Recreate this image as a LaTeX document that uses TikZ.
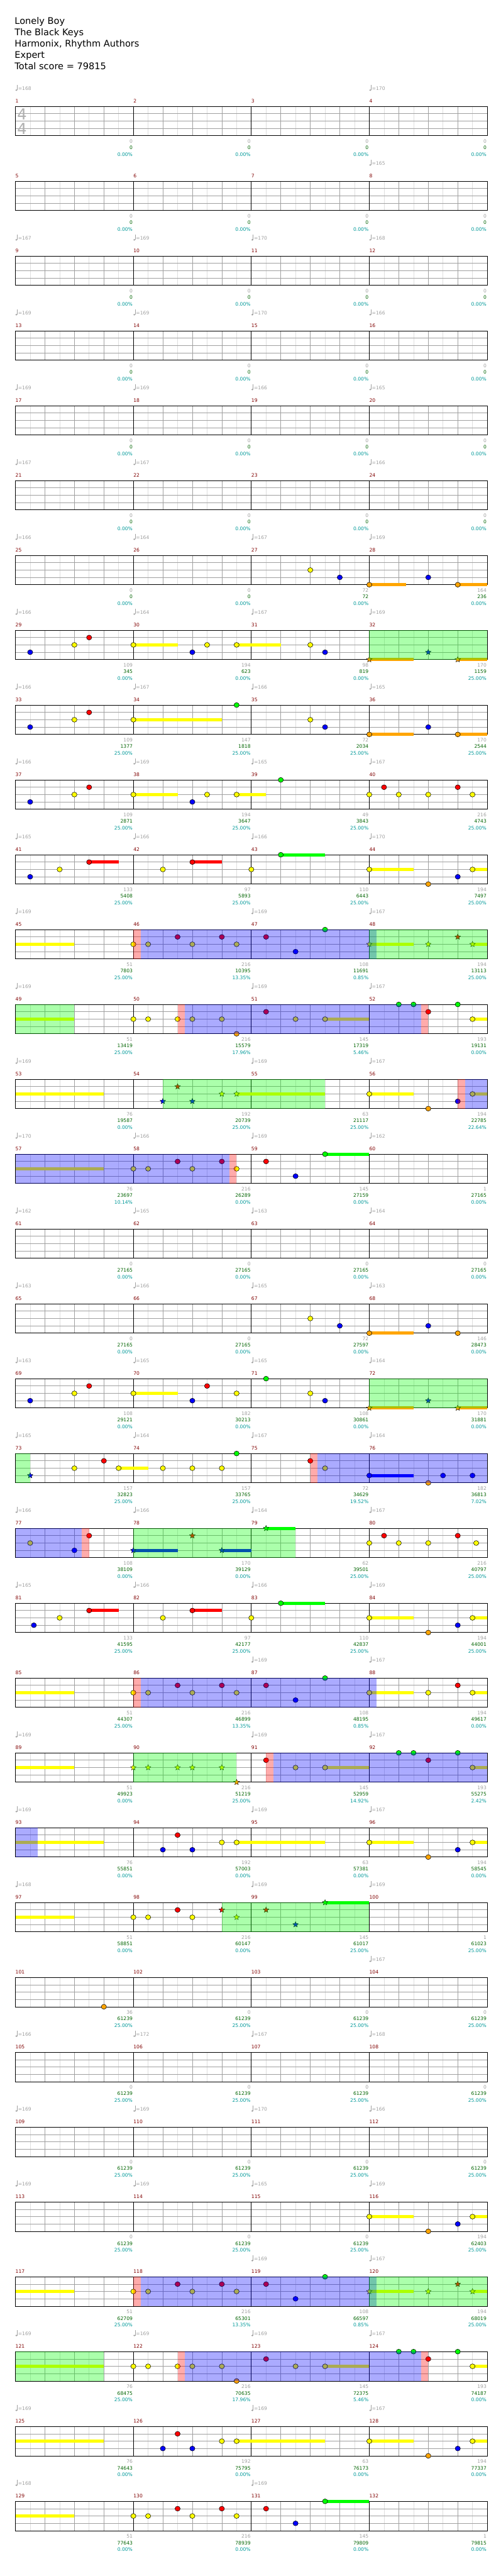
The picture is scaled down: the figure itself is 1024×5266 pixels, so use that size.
\documentclass[tikz,border=0pt]{standalone}
\usepackage{fontspec}
\setmainfont{DejaVu Sans}
\usetikzlibrary{shapes.geometric}
\definecolor{mred}{RGB}{128,0,0}
\definecolor{lgray}{RGB}{160,160,160}
\definecolor{vlgray}{RGB}{222,222,222}
\definecolor{tsgray}{RGB}{175,175,175}
\definecolor{tgreen}{RGB}{0,100,0}
\definecolor{pteal}{RGB}{0,153,153}
\definecolor{lane0}{RGB}{0,255,0}
\definecolor{lane1}{RGB}{255,0,0}
\definecolor{lane2}{RGB}{255,255,0}
\definecolor{lane3}{RGB}{0,0,255}
\definecolor{lane4}{RGB}{255,165,0}
\newcommand\sm{\fontsize{9.8}{11}\selectfont}
\tikzset{
  row/.style={xshift=31.5pt,yshift={-217.3pt-153pt*#1},x=60.3125pt,y=-15pt},
  sub/.style={vlgray,line width=.8pt},
  beat/.style={lgray,line width=1pt},
  bar/.style={black,line width=1pt},
  head/.style={anchor=base west,inner sep=0,font=\fontsize{18.7}{22}\selectfont},
  mnum/.style={text=mred,anchor=base west,inner sep=0,yshift=7.3pt,font=\sm},
  sc/.style={anchor=base east,inner sep=0,xshift=-1.3pt,font=\sm},
  ts/.style={text=tsgray,inner sep=0,font=\fontsize{31}{31}\selectfont},
  sp/.style={star,star points=5,star point ratio=2.2,minimum size=12pt,inner sep=0,draw=black,line width=.5pt},
}
% tempo mark, score lines, note, star note, sustain, overlay
\newcommand\tempo[2]{%
  \fill[lgray] (#1,0) ++(2pt,33pt) ellipse (2pt and 1.6pt);
  \draw[lgray,line width=.8pt] (#1,0) ++(3.6pt,33pt) -- ++(0,11pt);
  \path (#1,0) node[text=lgray,anchor=base west,inner sep=0,xshift=5.3pt,yshift=33.3pt,font=\sm]{=#2};}
\newcommand\meas[4]{\path (4*#1+4,4) node[sc,text=lgray,yshift=-15.4pt]{#2}
  node[sc,text=tgreen,yshift=-28.4pt]{#3} node[sc,text=pteal,yshift=-41.7pt]{#4};}
\newcommand\nt[2]{\filldraw[fill=lane#2,draw=black,line width=.7pt] (#1,#2) ellipse (5.3pt and 5pt);}
\newcommand\stn[2]{\node[sp,fill=lane#2] at (#1,#2) {};}
\newcommand\sus[3]{\fill[lane#3] ([yshift=3.3pt]#1,#3) rectangle ([yshift=-3.3pt]#2,#3);}
\newcommand\zone[3]{\fill[#3,opacity=.33] (#1,0) rectangle (#2,4);}
\begin{document}
\begin{tikzpicture}[x=1pt,y=-1pt]
\useasboundingbox (0,0) rectangle (1024,5266);
\fill[white] (0,0) rectangle (1024,5266);
\path (30,49.3) node[head]{Lonely Boy} (30,72.7) node[head]{The Black Keys}
  (30,96) node[head]{Harmonix, Rhythm Authors} (30,119.3) node[head]{Expert}
  (30,141.7) node[head]{Total score = 79815};
% staves
\foreach \i in {0,...,32}{
  \begin{scope}[row=\i]
    \foreach \k in {0.5,1.5,...,15.5} \draw[sub] (\k,0) -- (\k,4);
    \foreach \k in {1,...,15} \draw[beat] (\k,0) -- (\k,4);
    \foreach \l in {1,2,3} \draw[beat] (0,\l) -- (16,\l);
    \foreach \k in {4,8,12} \draw[bar] (\k,0) -- (\k,4);
    \draw[bar] (0,0) rectangle (16,4);
    \foreach \k in {0,...,3}{
      \pgfmathtruncatemacro\mn{4*\i+\k+1}
      \path (4*\k,0) node[mnum]{\mn};}
  \end{scope}}
\foreach \i in {0,...,5}{
  \begin{scope}[row=\i]
    \foreach \k in {0,...,3}{\meas\k{0}{0}{0.00\%}}
  \end{scope}}
\begin{scope}[row=0]
\path (0,0) ++(13.5pt,-16pt) node[ts]{4} (0,0) ++(13.5pt,-46pt) node[ts]{4};
\tempo{0}{168}\tempo{12}{170}
\end{scope}
\begin{scope}[row=1]\tempo{12}{165}\end{scope}
\begin{scope}[row=2]\tempo{0}{167}\tempo{4}{169}\tempo{8}{170}\tempo{12}{168}\end{scope}
\begin{scope}[row=3]\tempo{0}{169}\tempo{4}{169}\tempo{8}{170}\tempo{12}{166}\end{scope}
\begin{scope}[row=4]\tempo{0}{169}\tempo{4}{169}\tempo{8}{166}\tempo{12}{165}\end{scope}
\begin{scope}[row=5]\tempo{0}{167}\tempo{4}{167}\tempo{12}{166}\end{scope}
% 25-28
\begin{scope}[row=6]
\tempo{0}{166}\tempo{4}{164}\tempo{8}{167}\tempo{12}{169}
\meas0{0}{0}{0.00\%}\meas1{0}{0}{0.00\%}\meas2{72}{72}{0.00\%}\meas3{164}{236}{0.00\%}
\sus{12}{13.25}4\sus{15}{16}4
\nt{10}2\nt{11}3\nt{12}4\nt{14}3\nt{15}4
\end{scope}
% 29-32
\begin{scope}[row=7]
\tempo{0}{166}\tempo{4}{164}\tempo{8}{167}\tempo{12}{169}
\meas0{109}{345}{0.00\%}\meas1{194}{623}{0.00\%}\meas2{98}{819}{0.00\%}\meas3{170}{1159}{25.00\%}
\sus{4}{5.5}2\sus{7.5}{9}2\sus{12}{13.5}4\sus{15}{16}4
\nt{0.5}3\nt22\nt{2.5}1\nt42\nt63\nt{6.5}2\nt{7.5}2\nt{10}2\nt{10.5}3
\stn{12}4\stn{14}3\stn{15}4
\zone{12}{16}{lane0}
\end{scope}
% 33-36
\begin{scope}[row=8]
\tempo{0}{166}\tempo{4}{167}\tempo{8}{166}\tempo{12}{165}
\meas0{109}{1377}{25.00\%}\meas1{147}{1818}{25.00\%}\meas2{72}{2034}{25.00\%}\meas3{170}{2544}{25.00\%}
\sus{4}{7}2\sus{12}{13.5}4\sus{15}{16}4
\nt{0.5}3\nt22\nt{2.5}1\nt42\nt{7.5}0\nt{10}2\nt{10.5}3\nt{12}4\nt{14}3\nt{15}4
\end{scope}
% 37-40
\begin{scope}[row=9]
\tempo{0}{166}\tempo{4}{169}\tempo{8}{165}\tempo{12}{167}
\meas0{109}{2871}{25.00\%}\meas1{194}{3647}{25.00\%}\meas2{49}{3843}{25.00\%}\meas3{216}{4743}{25.00\%}
\sus{4}{5.5}2\sus{7.5}{8.5}2
\nt{0.5}3\nt22\nt{2.5}1\nt42\nt63\nt{6.5}2\nt{7.5}2\nt90\nt{12}2\nt{12.5}1\nt{13}2\nt{14}2\nt{15}1\nt{15.5}2
\end{scope}
% 41-44
\begin{scope}[row=10]
\tempo{0}{165}\tempo{4}{166}\tempo{8}{166}\tempo{12}{170}
\meas0{133}{5408}{25.00\%}\meas1{97}{5893}{25.00\%}\meas2{110}{6443}{25.00\%}\meas3{194}{7497}{25.00\%}
\sus{2.5}{3.5}1\sus{6}{7}1\sus{9}{10.5}0\sus{12}{13.5}2\sus{15.5}{16}2
\nt{0.5}3\nt{1.5}2\nt{2.5}1\nt52\nt61\nt82\nt90\nt{12}2\nt{14}4\nt{15}3\nt{15.5}2
\end{scope}
% 45-48
\begin{scope}[row=11]
\tempo{0}{169}\tempo{8}{169}\tempo{12}{167}
\meas0{51}{7803}{25.00\%}\meas1{216}{10395}{13.35\%}\meas2{108}{11691}{0.85\%}\meas3{194}{13113}{25.00\%}
\sus{0}{2}2\sus{12}{13.5}2\sus{15.5}{16}2
\nt42\nt{4.5}2\nt{5.5}1\nt62\nt71\nt{7.5}2\nt{8.5}1\nt{9.5}3\nt{10.5}0
\stn{12}2\stn{14}2\stn{15}1\stn{15.5}2
\zone{4}{4.25}{lane1}\zone{4.25}{12.25}{lane3}\zone{12}{16}{lane0}
\end{scope}
% 49-52
\begin{scope}[row=12]
\tempo{0}{169}\tempo{8}{169}\tempo{12}{167}
\meas0{51}{13419}{25.00\%}\meas1{216}{15579}{17.96\%}\meas2{145}{17319}{5.46\%}\meas3{193}{19131}{0.00\%}
\sus{0}{2}2\sus{10.5}{12}2\sus{15.5}{16}2
\nt42\nt{4.5}2\nt{5.5}2\nt62\nt72\nt{7.5}4\nt{8.5}1\nt{9.5}2\nt{10.5}2\nt{13}0\nt{13.5}0\nt{14}1\nt{15}0\nt{15.5}2
\zone{0}{2}{lane0}\zone{5.5}{5.75}{lane1}\zone{5.75}{13.75}{lane3}\zone{13.75}{14}{lane1}
\end{scope}
% 53-56
\begin{scope}[row=13]
\tempo{0}{169}\tempo{8}{169}\tempo{12}{167}
\meas0{76}{19587}{0.00\%}\meas1{192}{20739}{25.00\%}\meas2{63}{21117}{25.00\%}\meas3{194}{22785}{22.64\%}
\sus{0}{3}2\sus{7.5}{10.5}2\sus{12}{13.5}2\sus{15.5}{16}2
\stn53\stn{5.5}1\stn63\stn72\stn{7.5}2
\nt{12}2\nt{14}4\nt{15}3\nt{15.5}2
\zone{5}{10.5}{lane0}\zone{15}{15.25}{lane1}\zone{15.25}{16}{lane3}
\end{scope}
% 57-60
\begin{scope}[row=14]
\tempo{0}{170}\tempo{4}{166}\tempo{8}{169}\tempo{12}{162}
\meas0{76}{23697}{10.14\%}\meas1{216}{26289}{0.00\%}\meas2{145}{27159}{0.00\%}\meas3{1}{27165}{0.00\%}
\sus{0}{3}2\sus{10.5}{12}0
\nt42\nt{4.5}2\nt{5.5}1\nt62\nt71\nt{7.5}2\nt{8.5}1\nt{9.5}3\nt{10.5}0
\zone{0}{7.25}{lane3}\zone{7.25}{7.5}{lane1}
\end{scope}
% 61-64
\begin{scope}[row=15]
\tempo{0}{162}\tempo{4}{165}\tempo{8}{163}\tempo{12}{164}
\foreach \k in {0,...,3}{\meas\k{0}{27165}{0.00\%}}
\end{scope}
% 65-68
\begin{scope}[row=16]
\tempo{0}{163}\tempo{4}{166}\tempo{8}{165}\tempo{12}{163}
\meas0{0}{27165}{0.00\%}\meas1{0}{27165}{0.00\%}\meas2{72}{27597}{0.00\%}\meas3{146}{28473}{0.00\%}
\sus{12}{13.5}4
\nt{10}2\nt{11}3\nt{12}4\nt{14}3\nt{15}4
\end{scope}
% 69-72
\begin{scope}[row=17]
\tempo{0}{163}\tempo{4}{165}\tempo{8}{165}\tempo{12}{164}
\meas0{108}{29121}{0.00\%}\meas1{182}{30213}{0.00\%}\meas2{108}{30861}{0.00\%}\meas3{170}{31881}{0.00\%}
\sus{4}{5.5}2\sus{12}{13.5}4\sus{15}{16}4
\nt{0.5}3\nt22\nt{2.5}1\nt42\nt63\nt{6.5}1\nt{7.5}2\nt{8.5}0\nt{10}2\nt{10.5}3
\stn{12}4\stn{14}3\stn{15}4
\zone{12}{16}{lane0}
\end{scope}
% 73-76
\begin{scope}[row=18]
\tempo{0}{165}\tempo{4}{164}\tempo{8}{167}\tempo{12}{164}
\meas0{157}{32823}{25.00\%}\meas1{157}{33765}{25.00\%}\meas2{72}{34629}{19.52\%}\meas3{182}{36813}{7.02\%}
\sus{3.5}{4.5}2\sus{12}{13.5}3
\stn{0.5}3
\nt22\nt31\nt{3.5}2\nt52\nt62\nt72\nt{7.5}0\nt{10}1\nt{10.5}2\nt{12}3\nt{14}4\nt{14.5}3\nt{15.5}3
\zone{0}{0.5}{lane0}\zone{10}{10.25}{lane1}\zone{10.25}{16}{lane3}
\end{scope}
% 77-80
\begin{scope}[row=19]
\tempo{0}{166}\tempo{4}{166}\tempo{8}{164}\tempo{12}{167}
\meas0{108}{38109}{0.00\%}\meas1{170}{39129}{0.00\%}\meas2{62}{39501}{25.00\%}\meas3{216}{40797}{25.00\%}
\sus{4}{5.5}3\sus{7}{8}3\sus{8.5}{9.5}0
\nt{0.5}2\nt23\nt{2.5}1
\stn43\stn61\stn73\stn{8.5}0
\nt{12}2\nt{12.5}1\nt{13}2\nt{14}2\nt{15}1\nt{15.625}2
\zone{0}{2.25}{lane3}\zone{2.25}{2.5}{lane1}\zone{4}{9.5}{lane0}
\end{scope}
% 81-84
\begin{scope}[row=20]
\tempo{0}{165}\tempo{4}{166}\tempo{8}{166}\tempo{12}{169}
\meas0{133}{41595}{25.00\%}\meas1{97}{42177}{25.00\%}\meas2{110}{42837}{25.00\%}\meas3{194}{44001}{25.00\%}
\sus{2.5}{3.5}1\sus{6}{7}1\sus{9}{10.5}0\sus{12}{13.5}2\sus{15.5}{16}2
\nt{0.625}3\nt{1.5}2\nt{2.5}1\nt52\nt61\nt82\nt90\nt{12}2\nt{14}4\nt{15}3\nt{15.5}2
\end{scope}
% 85-88
\begin{scope}[row=21]
\tempo{8}{169}\tempo{12}{167}
\meas0{51}{44307}{25.00\%}\meas1{216}{46899}{13.35\%}\meas2{108}{48195}{0.85\%}\meas3{194}{49617}{0.00\%}
\sus{0}{2}2\sus{12}{13.5}2\sus{15.5}{16}2
\nt42\nt{4.5}2\nt{5.5}1\nt62\nt71\nt{7.5}2\nt{8.5}1\nt{9.5}3\nt{10.5}0\nt{12}2\nt{14}2\nt{15}1\nt{15.5}2
\zone{4}{4.25}{lane1}\zone{4.25}{12.25}{lane3}
\end{scope}
% 89-92
\begin{scope}[row=22]
\tempo{0}{169}\tempo{8}{169}\tempo{12}{167}
\meas0{51}{49923}{0.00\%}\meas1{216}{51219}{25.00\%}\meas2{145}{52959}{14.92\%}\meas3{193}{55275}{2.42\%}
\sus{0}{2}2\sus{10.5}{12}2\sus{15.5}{16}2
\stn42\stn{4.5}2\stn{5.5}2\stn62\stn72\stn{7.5}4
\nt{8.5}1\nt{9.5}2\nt{10.5}2\nt{13}0\nt{13.5}0\nt{14}1\nt{15}0\nt{15.5}2
\zone{4}{7.5}{lane0}\zone{8.5}{8.75}{lane1}\zone{8.75}{16}{lane3}
\end{scope}
% 93-96
\begin{scope}[row=23]
\tempo{0}{169}\tempo{8}{169}\tempo{12}{167}
\meas0{76}{55851}{0.00\%}\meas1{192}{57003}{0.00\%}\meas2{63}{57381}{0.00\%}\meas3{194}{58545}{0.00\%}
\sus{0}{3}2\sus{7.5}{10.5}2\sus{12}{13.5}2\sus{15.5}{16}2
\nt53\nt{5.5}1\nt63\nt72\nt{7.5}2\nt{12}2\nt{14}4\nt{15}3\nt{15.5}2
\zone{0}{0.75}{lane3}
\end{scope}
% 97-100
\begin{scope}[row=24]
\tempo{0}{168}\tempo{8}{169}\tempo{12}{169}
\meas0{51}{58851}{0.00\%}\meas1{216}{60147}{0.00\%}\meas2{145}{61017}{25.00\%}\meas3{1}{61023}{25.00\%}
\sus{0}{2}2\sus{10.5}{12}0
\nt42\nt{4.5}2\nt{5.5}1\nt62
\stn71\stn{7.5}2\stn{8.5}1\stn{9.5}3\stn{10.5}0
\zone{7}{12}{lane0}
\end{scope}
% 101-104
\begin{scope}[row=25]
\tempo{12}{167}
\meas0{36}{61239}{25.00\%}\meas1{0}{61239}{25.00\%}\meas2{0}{61239}{25.00\%}\meas3{0}{61239}{25.00\%}
\nt34
\end{scope}
% 105-112
\begin{scope}[row=26]
\tempo{0}{166}\tempo{4}{172}\tempo{8}{167}\tempo{12}{168}
\foreach \k in {0,...,3}{\meas\k{0}{61239}{25.00\%}}
\end{scope}
\begin{scope}[row=27]
\tempo{0}{169}\tempo{4}{169}\tempo{8}{170}\tempo{12}{166}
\foreach \k in {0,...,3}{\meas\k{0}{61239}{25.00\%}}
\end{scope}
% 113-116
\begin{scope}[row=28]
\tempo{0}{169}\tempo{4}{169}\tempo{8}{165}\tempo{12}{169}
\meas0{0}{61239}{25.00\%}\meas1{0}{61239}{25.00\%}\meas2{0}{61239}{25.00\%}\meas3{194}{62403}{25.00\%}
\sus{12}{13.5}2\sus{15.5}{16}2
\nt{12}2\nt{14}4\nt{15}3\nt{15.5}2
\end{scope}
% 117-120
\begin{scope}[row=29]
\tempo{8}{169}\tempo{12}{167}
\meas0{51}{62709}{25.00\%}\meas1{216}{65301}{13.35\%}\meas2{108}{66597}{0.85\%}\meas3{194}{68019}{25.00\%}
\sus{0}{2}2\sus{12}{13.5}2\sus{15.5}{16}2
\nt42\nt{4.5}2\nt{5.5}1\nt62\nt71\nt{7.5}2\nt{8.5}1\nt{9.5}3\nt{10.5}0
\stn{12}2\stn{14}2\stn{15}1\stn{15.5}2
\zone{4}{4.25}{lane1}\zone{4.25}{12.25}{lane3}\zone{12}{16}{lane0}
\end{scope}
% 121-124
\begin{scope}[row=30]
\tempo{0}{169}\tempo{4}{169}\tempo{8}{169}\tempo{12}{167}
\meas0{76}{68475}{25.00\%}\meas1{216}{70635}{17.96\%}\meas2{145}{72375}{5.46\%}\meas3{193}{74187}{0.00\%}
\sus{0}{3}2\sus{10.5}{12}2\sus{15.5}{16}2
\nt42\nt{4.5}2\nt{5.5}2\nt62\nt72\nt{7.5}4\nt{8.5}1\nt{9.5}2\nt{10.5}2\nt{13}0\nt{13.5}0\nt{14}1\nt{15}0\nt{15.5}2
\zone{0}{3}{lane0}\zone{5.5}{5.75}{lane1}\zone{5.75}{13.75}{lane3}\zone{13.75}{14}{lane1}
\end{scope}
% 125-128
\begin{scope}[row=31]
\tempo{0}{169}\tempo{8}{169}\tempo{12}{167}
\meas0{76}{74643}{0.00\%}\meas1{192}{75795}{0.00\%}\meas2{63}{76173}{0.00\%}\meas3{194}{77337}{0.00\%}
\sus{0}{3}2\sus{7.5}{10.5}2\sus{12}{13.5}2\sus{15.5}{16}2
\nt53\nt{5.5}1\nt63\nt72\nt{7.5}2\nt{12}2\nt{14}4\nt{15}3\nt{15.5}2
\end{scope}
% 129-132
\begin{scope}[row=32]
\tempo{0}{168}\tempo{8}{169}
\meas0{51}{77643}{0.00\%}\meas1{216}{78939}{0.00\%}\meas2{145}{79809}{0.00\%}\meas3{1}{79815}{0.00\%}
\sus{0}{2}2\sus{10.5}{12}0
\nt42\nt{4.5}2\nt{5.5}1\nt62\nt71\nt{7.5}2\nt{8.5}1\nt{9.5}3\nt{10.5}0
\end{scope}
\end{tikzpicture}
\end{document}
